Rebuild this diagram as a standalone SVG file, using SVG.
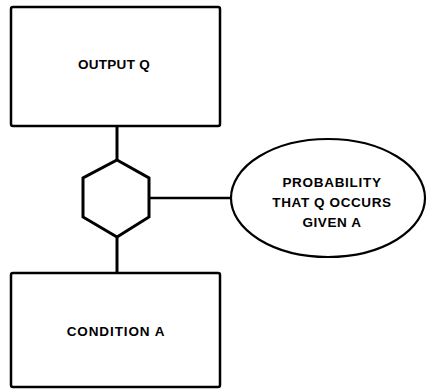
<svg xmlns="http://www.w3.org/2000/svg" width="428" height="391" viewBox="0 0 428 391">
<style>
.box{fill:#fff;stroke:#000;stroke-width:2.5}
.hex{fill:#fff;stroke:#000;stroke-width:3;stroke-linejoin:miter}
.ell{fill:#fff;stroke:#000;stroke-width:2.2}
.conn{stroke:#000;stroke-width:3;fill:none}
.t{font-family:"Liberation Sans",Arial,sans-serif;font-weight:bold;font-size:13.5px;text-anchor:middle;fill:#000}
</style>
<rect width="428" height="391" fill="#fff"/>
<g id="connectors">
<line class="conn" x1="117" y1="126" x2="117" y2="160"/>
<line class="conn" x1="117" y1="237" x2="117" y2="273"/>
<line class="conn" x1="149" y1="198" x2="230" y2="198" style="stroke-width:2.5"/>
</g>
<g id="output-q">
<rect class="box" x="11" y="7" width="209" height="119" rx="2"/>
<text class="t" x="114" y="69" letter-spacing="0.3">OUTPUT Q</text>
</g>
<g id="hexagon">
<polygon class="hex" points="117,160 149,178 149,217 117,237 83,217 83,178"/>
</g>
<g id="probability">
<ellipse class="ell" cx="328" cy="198" rx="97" ry="59"/>
<text class="t" x="332" y="187" letter-spacing="0.7">PROBABILITY</text>
<text class="t" x="332" y="207" letter-spacing="0.6">THAT Q OCCURS</text>
<text class="t" x="332" y="227" letter-spacing="0.6">GIVEN A</text>
</g>
<g id="condition-a">
<rect class="box" x="11" y="273" width="209" height="114" rx="2"/>
<text class="t" x="116" y="336" letter-spacing="0.9">CONDITION A</text>
</g>
</svg>
